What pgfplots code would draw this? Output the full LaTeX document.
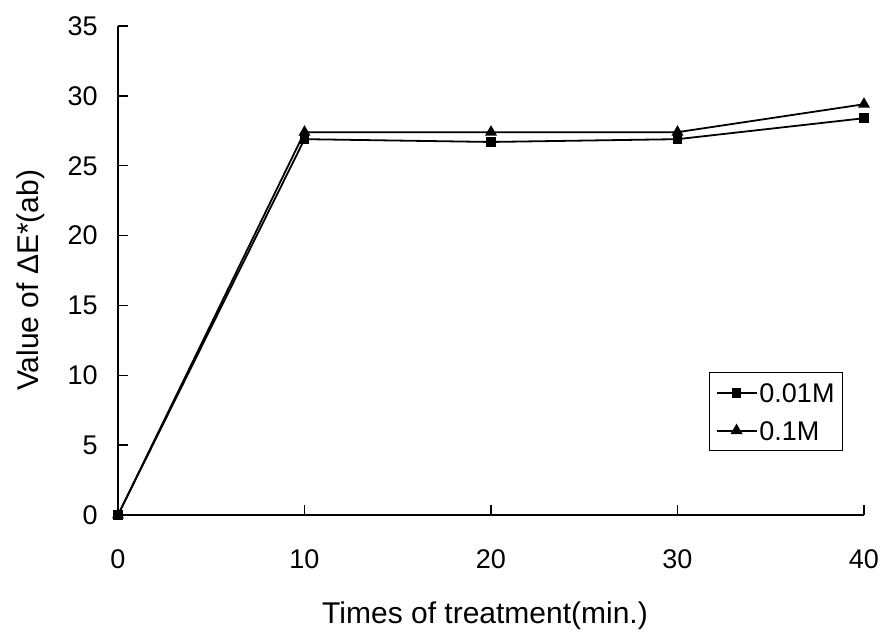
\documentclass[border=0pt]{standalone}
\usepackage{fontspec}
\setmainfont{Liberation Sans}
\usepackage{pgfplots}
\pgfplotsset{compat=1.18}
\begin{document}
\begin{tikzpicture}
\path[use as bounding box] (-59pt,-61pt) rectangle (383.5pt,257.5pt);
\begin{axis}[
  at={(0pt,0pt)}, anchor=south west,
  scale only axis, width=373pt, height=244.5pt,
  xmin=0, xmax=40, ymin=0, ymax=35,
  axis x line*=bottom, axis y line*=left,
  axis line style={line width=0.7pt},
  xtick={0,10,20,30,40}, ytick={0,5,...,35},
  tick align=inside, major tick length=5pt,
  tick style={line width=0.7pt, black},
  /pgf/number format/assume math mode=true,
  tick label style={font=\fontsize{13.5}{16}\selectfont},
  yticklabel style={anchor=east, inner sep=0pt, xshift=-10pt},
  xticklabel style={anchor=north, inner sep=0pt, yshift=-17pt},
  xlabel={Times of treatment(min.)},
  ylabel={Value of ΔE*(ab)},
  every axis x label/.style={at={(axis description cs:0.492,-0.2209)}, anchor=base, font=\fontsize{15}{18}\selectfont},
  every axis y label/.style={at={(axis description cs:-0.1072,0.48)}, rotate=90, anchor=base, font=\fontsize{15}{18}\selectfont},
  legend style={at={(0.972,0.2924)}, anchor=north east, draw=black, line width=0.6pt,
    font=\fontsize{13.5}{16}\selectfont, inner xsep=3pt, inner ysep=4pt, row sep=7pt,
    nodes={inner sep=1pt, text height=10pt, text depth=0pt}},
  legend cell align=left,
  legend image code/.code={\draw[mark repeat=2,mark phase=2,#1] plot coordinates {(0pt,0pt) (10pt,0pt) (20pt,0pt)};},
  clip=false,
]
\addplot[black, line width=0.9pt, mark=square*, mark size=2pt, mark options={solid}]
  coordinates {(0,0) (10,26.9) (20,26.7) (30,26.9) (40,28.4)};
\addlegendentry{0.01M}
\addplot[black, line width=0.9pt, mark=triangle*, mark size=2.6pt, mark options={solid}]
  coordinates {(0,0) (10,27.4) (20,27.4) (30,27.4) (40,29.4)};
\addlegendentry{0.1M}
\end{axis}
\end{tikzpicture}
\end{document}
